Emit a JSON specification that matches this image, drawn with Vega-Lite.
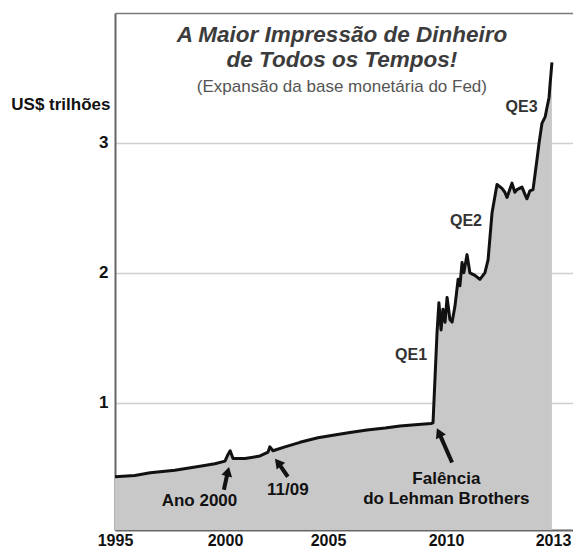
{
  "$schema": "https://vega.github.io/schema/vega-lite/v6.json",
  "width": 458,
  "height": 517,
  "autosize": "none",
  "padding": {"left": 115, "top": 13, "right": 0, "bottom": 20},
  "background": "white",
  "config": {"font": "Liberation Sans", "view": {"stroke": null}},
  "resolve": {"axis": {"x": "independent"}},
  "datasets": {
    "base": [
      {"year": 1995.0, "value": 0.43},
      {"year": 1995.90, "value": 0.44},
      {"year": 1996.60, "value": 0.46},
      {"year": 1997.72, "value": 0.48},
      {"year": 1998.86, "value": 0.51},
      {"year": 1999.54, "value": 0.53},
      {"year": 2000.0, "value": 0.55},
      {"year": 2000.14, "value": 0.60},
      {"year": 2000.25, "value": 0.63},
      {"year": 2000.39, "value": 0.57},
      {"year": 2000.97, "value": 0.57},
      {"year": 2001.70, "value": 0.59},
      {"year": 2002.09, "value": 0.62},
      {"year": 2002.18, "value": 0.66},
      {"year": 2002.33, "value": 0.63},
      {"year": 2002.91, "value": 0.66},
      {"year": 2003.64, "value": 0.695},
      {"year": 2004.51, "value": 0.73},
      {"year": 2005.21, "value": 0.75},
      {"year": 2005.93, "value": 0.77},
      {"year": 2006.65, "value": 0.79},
      {"year": 2007.42, "value": 0.805},
      {"year": 2008.05, "value": 0.82},
      {"year": 2008.69, "value": 0.83},
      {"year": 2009.36, "value": 0.84},
      {"year": 2009.45, "value": 0.845},
      {"year": 2009.62, "value": 1.54},
      {"year": 2009.70, "value": 1.77},
      {"year": 2009.79, "value": 1.56},
      {"year": 2009.87, "value": 1.72},
      {"year": 2009.96, "value": 1.62},
      {"year": 2010.03, "value": 1.81},
      {"year": 2010.11, "value": 1.64},
      {"year": 2010.17, "value": 1.62},
      {"year": 2010.25, "value": 1.74},
      {"year": 2010.34, "value": 1.95},
      {"year": 2010.39, "value": 1.90},
      {"year": 2010.45, "value": 2.08},
      {"year": 2010.50, "value": 2.00},
      {"year": 2010.59, "value": 2.14},
      {"year": 2010.67, "value": 2.00},
      {"year": 2010.81, "value": 1.98},
      {"year": 2010.95, "value": 1.95},
      {"year": 2011.09, "value": 2.00},
      {"year": 2011.18, "value": 2.10},
      {"year": 2011.29, "value": 2.46},
      {"year": 2011.43, "value": 2.68},
      {"year": 2011.57, "value": 2.65},
      {"year": 2011.65, "value": 2.62},
      {"year": 2011.71, "value": 2.58},
      {"year": 2011.85, "value": 2.69},
      {"year": 2011.93, "value": 2.62},
      {"year": 2011.99, "value": 2.64},
      {"year": 2012.13, "value": 2.66},
      {"year": 2012.22, "value": 2.60},
      {"year": 2012.27, "value": 2.57},
      {"year": 2012.35, "value": 2.63},
      {"year": 2012.44, "value": 2.64},
      {"year": 2012.55, "value": 2.87},
      {"year": 2012.61, "value": 3.00},
      {"year": 2012.69, "value": 3.15},
      {"year": 2012.78, "value": 3.20},
      {"year": 2012.83, "value": 3.27},
      {"year": 2012.89, "value": 3.35},
      {"year": 2012.92, "value": 3.46},
      {"year": 2012.94, "value": 3.52},
      {"year": 2012.97, "value": 3.62}
    ],
    "notes": [
      {"kind": "title", "year": 2005.59, "value": 3.83, "text": "A Maior Impressão de Dinheiro"},
      {"kind": "title", "year": 2005.59, "value": 3.64, "text": "de Todos os Tempos!"},
      {"kind": "subtitle", "year": 2005.59, "value": 3.43, "text": "(Expansão da base monetária do Fed)"},
      {"kind": "qe", "year": 2012.12, "value": 3.28, "text": "QE3"},
      {"kind": "qe", "year": 2010.56, "value": 2.40, "text": "QE2"},
      {"kind": "qe", "year": 2008.52, "value": 1.37, "text": "QE1"},
      {"kind": "event", "year": 1998.84, "value": 0.24, "text": "Ano 2000"},
      {"kind": "event", "year": 2003.05, "value": 0.33, "text": "11/09"},
      {"kind": "event", "year": 2010.01, "value": 0.415, "text": "Falência"},
      {"kind": "event", "year": 2010.01, "value": 0.26, "text": "do Lehman Brothers"}
    ],
    "arrows": [
      {"label": "y2k", "year": 1999.95, "value": 0.33, "year2": 2000.14, "value2": 0.47},
      {"label": "911", "year": 2003.05, "value": 0.43, "year2": 2002.57, "value2": 0.54},
      {"label": "lehman", "year": 2010.17, "value": 0.54, "year2": 2009.70, "value2": 0.77}
    ]
  },
  "layer": [
    {
      "data": {"name": "base"},
      "mark": {"type": "area", "fill": "#c8c8c8", "fillOpacity": 1, "opacity": 1, "clip": true, "line": {"color": "#111111", "strokeWidth": 3, "strokeJoin": "round"}},
      "encoding": {
        "x": {
          "field": "year", "type": "quantitative",
          "scale": {"domain": [1995, 2000, 2005, 2010, 2013, 2013.6], "range": [0, 110, 213, 331, 438, 459], "nice": false, "zero": false},
          "axis": {"orient": "bottom", "values": [1995, 2000, 2005, 2010, 2013], "format": "d", "title": null, "grid": false, "ticks": false,
            "labelFontSize": 16, "labelFontWeight": "bold", "labelColor": "#111111", "labelPadding": 2, "labelBaseline": "top", "labelFlush": false,
            "domainColor": "#666666", "domainWidth": 2}
        },
        "y": {
          "field": "value", "type": "quantitative",
          "scale": {"domain": [0.02, 4], "nice": false, "zero": false},
          "axis": {"values": [1, 2, 3], "format": "d", "title": "US$ trilhões", "titleAngle": 0, "titleAlign": "right", "titleBaseline": "middle",
            "titleX": -5, "titleY": 91, "titleFontSize": 17, "titleFontWeight": "bold", "titleColor": "#111111",
            "grid": true, "gridColor": "#cfcfcf", "gridWidth": 1.5, "ticks": false,
            "labelFontSize": 17, "labelFontWeight": "bold", "labelColor": "#111111", "labelPadding": 7,
            "domainColor": "#666666", "domainWidth": 2}
        }
      }
    },
    {
      "data": {"name": "notes"},
      "transform": [{"filter": "datum.kind === 'title'"}],
      "mark": {"type": "text", "fontSize": 22.5, "fontWeight": "bold", "fontStyle": "italic", "color": "#3c3c3c", "align": "center", "baseline": "middle"},
      "encoding": {
        "x": {"field": "year", "type": "quantitative", "axis": {"orient": "top", "labels": false, "ticks": false, "grid": false, "title": null, "domainColor": "#7a7a7a", "domainWidth": 1.5}},
        "y": {"field": "value", "type": "quantitative"},
        "text": {"field": "text"}
      }
    },
    {
      "data": {"name": "notes"},
      "transform": [{"filter": "datum.kind === 'subtitle'"}],
      "mark": {"type": "text", "fontSize": 17, "color": "#555555", "align": "center", "baseline": "middle"},
      "encoding": {"x": {"field": "year", "type": "quantitative", "axis": null}, "y": {"field": "value", "type": "quantitative"}, "text": {"field": "text"}}
    },
    {
      "data": {"name": "notes"},
      "transform": [{"filter": "datum.kind === 'qe'"}],
      "mark": {"type": "text", "fontSize": 16, "fontWeight": "bold", "color": "#333333", "align": "center", "baseline": "middle"},
      "encoding": {"x": {"field": "year", "type": "quantitative", "axis": null}, "y": {"field": "value", "type": "quantitative"}, "text": {"field": "text"}}
    },
    {
      "data": {"name": "notes"},
      "transform": [{"filter": "datum.kind === 'event'"}],
      "mark": {"type": "text", "fontSize": 17, "fontWeight": "bold", "color": "#111111", "align": "center", "baseline": "middle"},
      "encoding": {"x": {"field": "year", "type": "quantitative", "axis": null}, "y": {"field": "value", "type": "quantitative"}, "text": {"field": "text"}}
    },
    {
      "data": {"name": "arrows"},
      "mark": {"type": "rule", "color": "#111111", "strokeWidth": 4},
      "encoding": {
        "x": {"field": "year", "type": "quantitative", "axis": null}, "y": {"field": "value", "type": "quantitative"},
        "x2": {"field": "year2"}, "y2": {"field": "value2"}
      }
    },
    {
      "data": {"name": "arrows"},
      "transform": [{"filter": "datum.label === 'y2k'"}],
      "mark": {"type": "point", "shape": "triangle-up", "filled": true, "opacity": 1, "color": "#111111", "size": 120, "angle": 14},
      "encoding": {"x": {"field": "year2", "type": "quantitative", "axis": null}, "y": {"field": "value2", "type": "quantitative"}}
    },
    {
      "data": {"name": "arrows"},
      "transform": [{"filter": "datum.label === '911'"}],
      "mark": {"type": "point", "shape": "triangle-up", "filled": true, "opacity": 1, "color": "#111111", "size": 120, "angle": 321},
      "encoding": {"x": {"field": "year2", "type": "quantitative", "axis": null}, "y": {"field": "value2", "type": "quantitative"}}
    },
    {
      "data": {"name": "arrows"},
      "transform": [{"filter": "datum.label === 'lehman'"}],
      "mark": {"type": "point", "shape": "triangle-up", "filled": true, "opacity": 1, "color": "#111111", "size": 120, "angle": 335},
      "encoding": {"x": {"field": "year2", "type": "quantitative", "axis": null}, "y": {"field": "value2", "type": "quantitative"}}
    }
  ]
}
